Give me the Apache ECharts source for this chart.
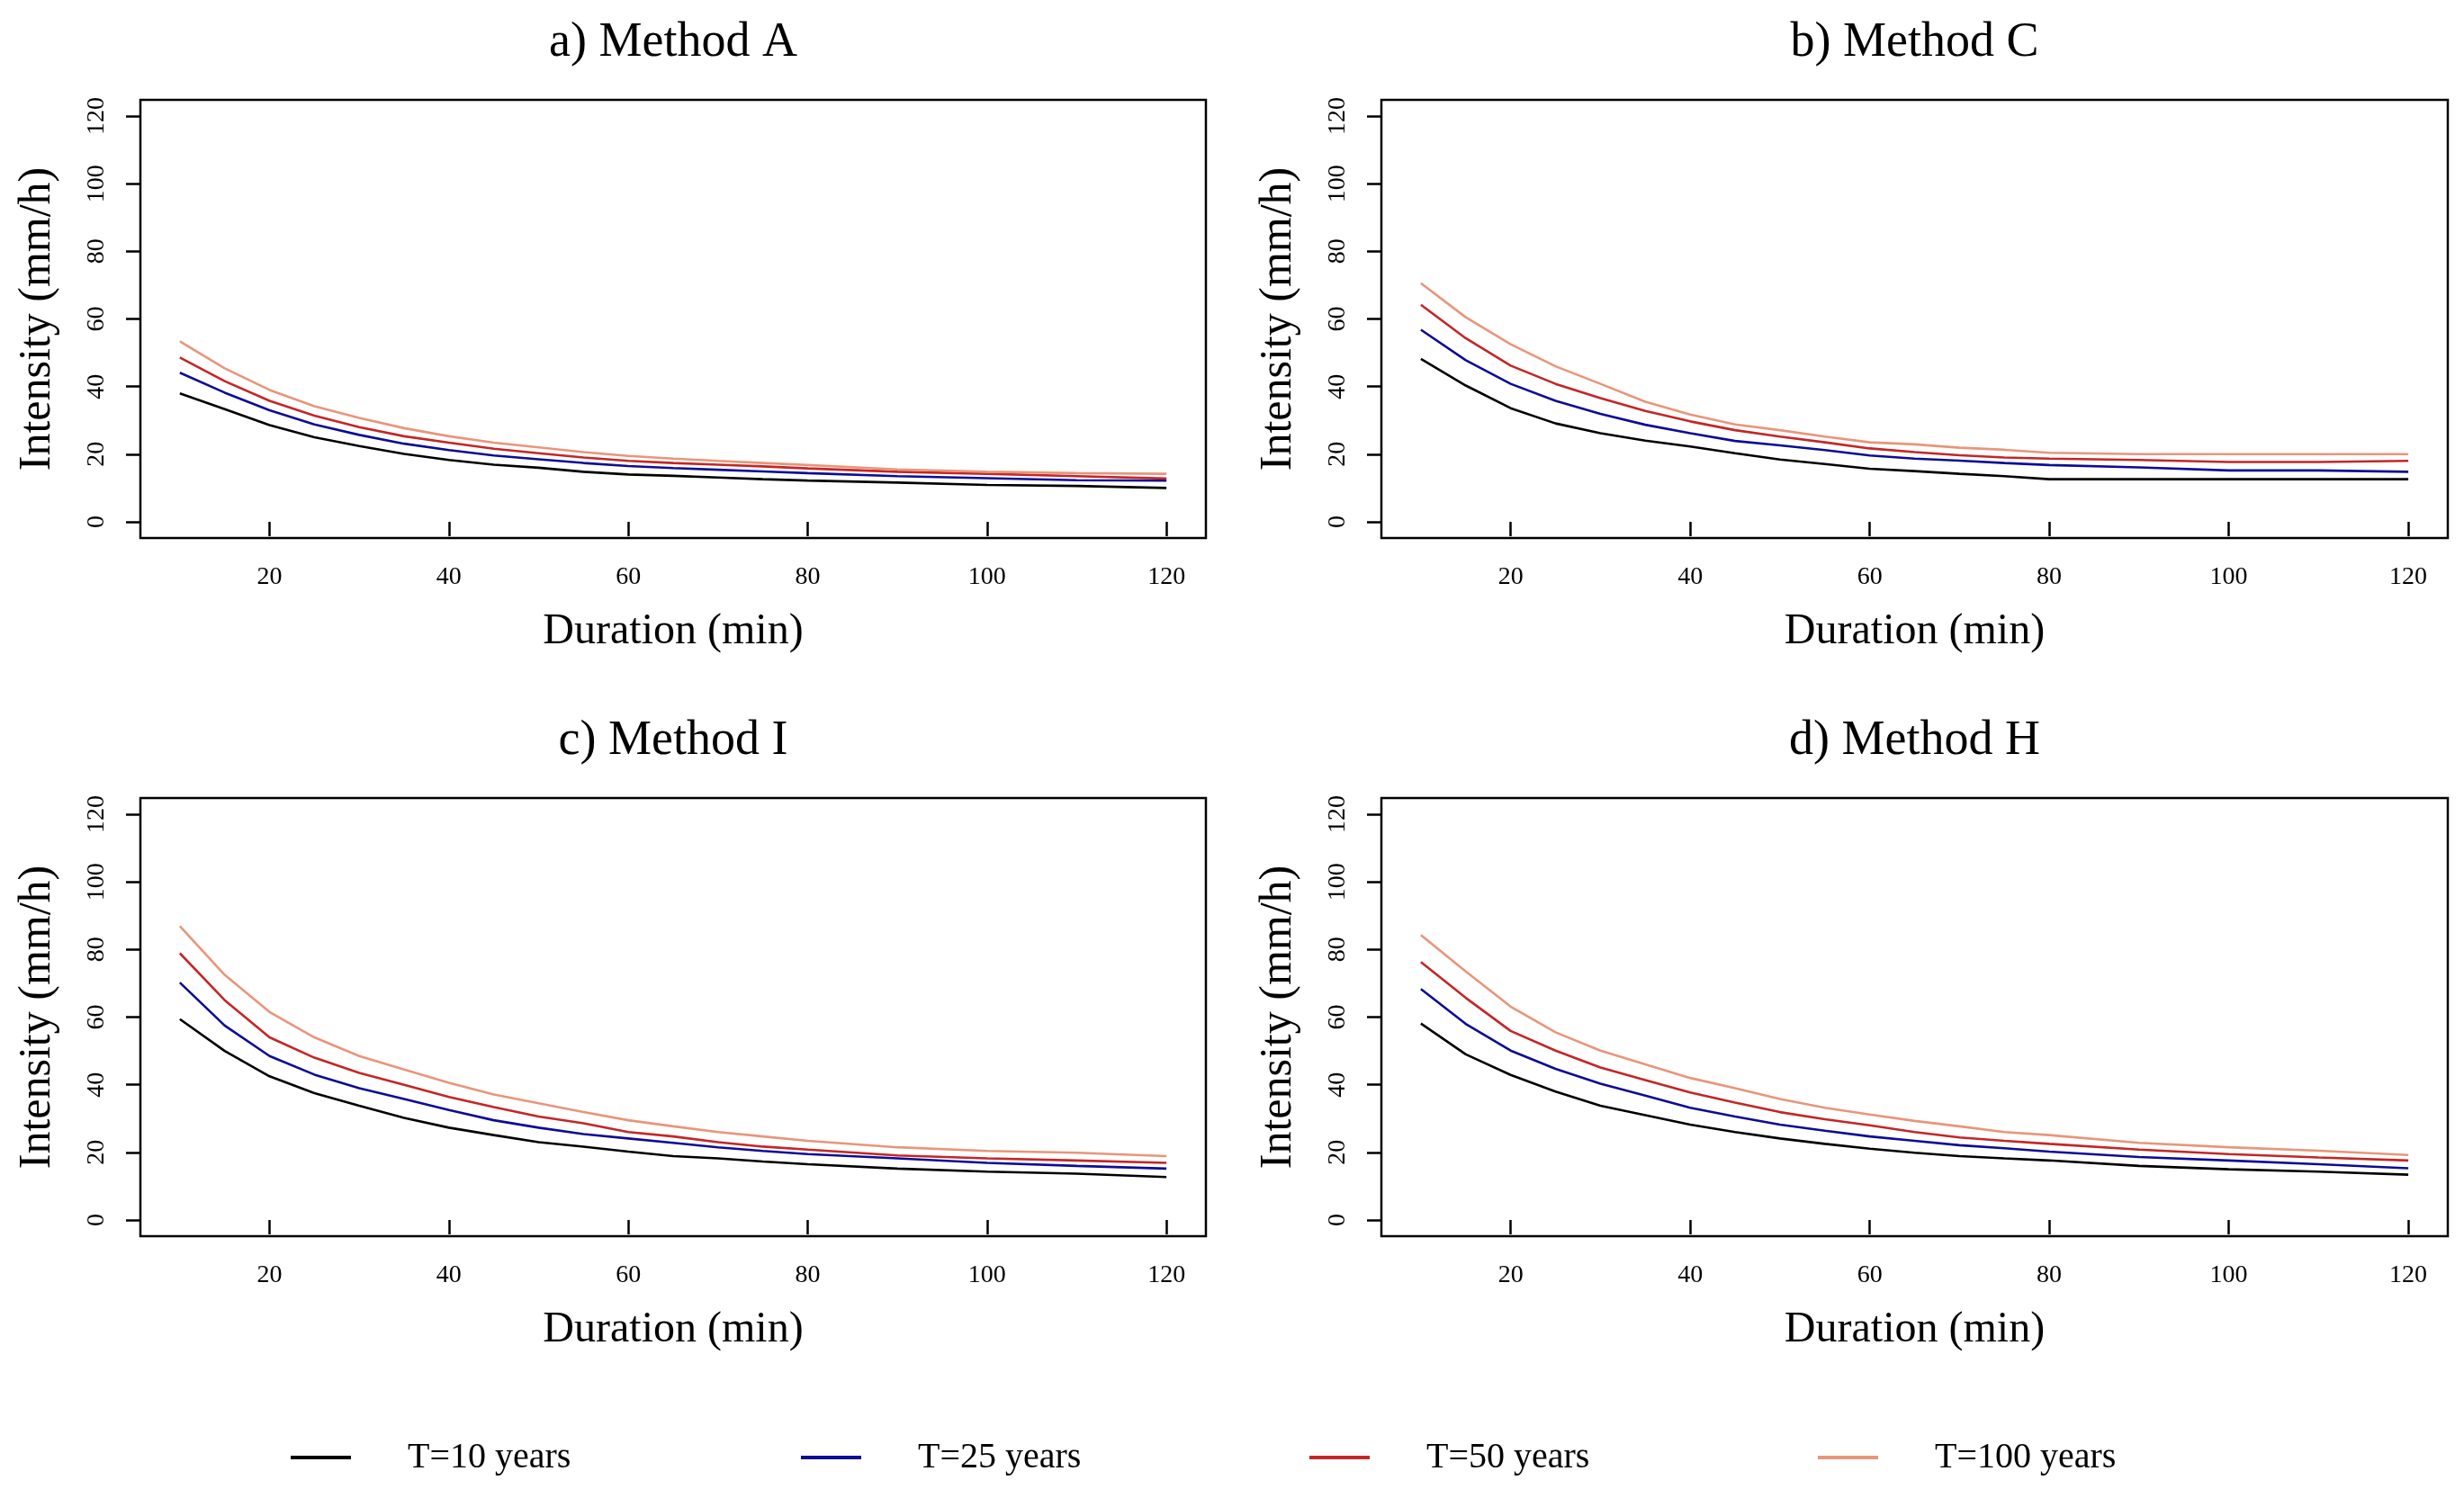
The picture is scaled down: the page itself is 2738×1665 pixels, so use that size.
<!DOCTYPE html>
<html><head><meta charset="utf-8">
<script src="https://cdn.jsdelivr.net/npm/echarts@6/dist/echarts.min.js"></script>
<style>html,body{margin:0;padding:0;background:#fff}#c{width:2738px;height:1665px}</style>
</head><body><div id="c"></div>
<script>
const durations = [10,15,20,25,30,35,40,45,50,55,60,65,70,75,80,90,100,110,120];
const seriesNames = ['T=10 years','T=25 years','T=50 years','T=100 years'];
const panelTitles = ['a) Method A','b) Method C','c) Method I','d) Method H'];
const xTicks = [20,40,60,80,100,120];
const yTicks = [0,20,40,60,80,100,120];
const xAxisName = 'Duration (min)';
const yAxisName = 'Intensity (mm/h)';

const methodA_T10  = [38.0,33.3,28.6,25.0,22.4,20.1,18.3,16.9,16.0,14.8,14.0,13.6,13.1,12.6,12.2,11.6,10.9,10.6,10.0];
const methodA_T25  = [44.1,38.2,33.0,28.8,25.7,23.1,21.2,19.6,18.5,17.4,16.5,15.9,15.4,14.9,14.4,13.5,12.9,12.3,12.2];
const methodA_T50  = [48.6,41.6,35.8,31.4,28.0,25.3,23.4,21.6,20.3,19.0,18.0,17.4,16.9,16.4,15.8,14.8,14.2,13.5,12.8];
const methodA_T100 = [53.4,45.4,39.0,34.2,30.7,27.7,25.3,23.4,22.0,20.6,19.5,18.7,18.0,17.4,16.8,15.5,14.8,14.4,14.2];

const methodC_T10  = [48.2,40.3,33.6,29.1,26.2,24.0,22.3,20.3,18.4,17.1,15.7,15.0,14.2,13.5,12.6,12.6,12.6,12.6,12.6];
const methodC_T25  = [56.8,47.8,40.8,35.8,31.9,28.7,26.2,23.9,22.6,21.2,19.6,18.7,18.1,17.4,16.8,16.1,15.2,15.2,14.8];
const methodC_T50  = [64.2,54.3,46.2,40.8,36.6,32.8,29.7,27.1,25.2,23.5,21.7,20.6,19.7,19.0,18.7,18.3,17.7,17.7,18.0];
const methodC_T100 = [70.6,60.5,52.5,46.0,40.8,35.5,31.7,28.8,27.1,25.2,23.5,22.9,21.9,21.3,20.4,20.0,20.0,20.0,20.0];

const methodI_T10  = [59.4,50.0,42.5,37.5,33.8,30.2,27.3,25.1,23.0,21.7,20.2,18.9,18.2,17.3,16.5,15.2,14.3,13.7,12.7];
const methodI_T25  = [70.2,57.5,48.5,43.0,39.0,35.8,32.5,29.5,27.3,25.4,24.1,22.8,21.5,20.4,19.5,18.2,16.9,16.0,15.2];
const methodI_T50  = [78.9,65.0,54.0,48.0,43.5,40.0,36.4,33.4,30.6,28.6,26.0,24.7,23.0,21.7,20.8,19.1,18.2,17.6,16.9];
const methodI_T100 = [86.9,72.5,61.5,54.0,48.5,44.5,40.6,37.1,34.5,31.9,29.5,27.7,26.0,24.7,23.4,21.5,20.4,19.9,18.9];

const methodH_T10  = [58.1,49.0,42.9,38.0,33.8,31.0,28.2,26.0,24.1,22.5,21.1,19.9,18.9,18.2,17.6,16.0,15.0,14.3,13.4];
const methodH_T25  = [68.3,58.0,50.1,44.7,40.3,36.8,33.2,30.6,28.2,26.4,24.7,23.4,22.1,21.2,20.2,18.6,17.6,16.5,15.3];
const methodH_T50  = [76.3,65.7,55.9,50.1,45.1,41.4,37.7,34.7,31.9,29.8,28.0,26.0,24.4,23.4,22.5,20.8,19.5,18.5,17.6];
const methodH_T100 = [84.3,73.5,63.1,55.5,50.1,46.0,42.0,39.0,35.8,33.2,31.2,29.3,27.7,26.0,25.1,22.8,21.5,20.5,19.2];

const panelValues = [
  [methodA_T10, methodA_T25, methodA_T50, methodA_T100],
  [methodC_T10, methodC_T25, methodC_T50, methodC_T100],
  [methodI_T10, methodI_T25, methodI_T50, methodI_T100],
  [methodH_T10, methodH_T25, methodH_T50, methodH_T100]
];

// styling / layout
const seriesColors = ['#000000','#0c0c96','#c42626','#e9957a'];
const FONT = 'Liberation Serif';
const grids = [
  {left:156, top:111, width:1184, height:487},
  {left:1535, top:111, width:1185, height:487},
  {left:156, top:887, width:1184, height:487},
  {left:1535, top:887, width:1185, height:487}
];
const legendLeft = [323, 890, 1455, 2020];

const option = {
  animation: false,
  backgroundColor: '#ffffff',
  title: panelTitles.map((t,i)=>({
    text: t,
    left: grids[i].left + grids[i].width/2,
    top: grids[i].top - 90,
    textAlign: 'center',
    padding: 0,
    textStyle: {fontFamily: FONT, fontSize: 54, fontWeight: 'normal', color: '#000'}
  })),
  legend: seriesNames.map((n,i)=>({
    data: [n],
    left: legendLeft[i],
    top: 1600,
    padding: 0,
    icon: 'rect',
    itemWidth: 67,
    itemHeight: 4,
    selectedMode: false,
    textStyle: {fontFamily: FONT, fontSize: 40, color: '#000', padding: [0,0,0,58]}
  })),
  grid: grids.map(g=>({
    left: g.left, top: g.top, width: g.width, height: g.height,
    show: true, borderColor: '#000', borderWidth: 2.5, backgroundColor: '#fff'
  })),
  xAxis: grids.map((g,i)=>({
    type: 'value', gridIndex: i, min: 5.6, max: 124.4,
    name: xAxisName, nameLocation: 'middle', nameGap: 80,
    nameTextStyle: {fontFamily: FONT, fontSize: 48, color: '#000'},
    axisLine: {show: false},
    splitLine: {show: false},
    axisTick: {show: true, customValues: xTicks, length: 16, lineStyle: {color: '#000', width: 2.5}},
    axisLabel: {customValues: xTicks, margin: 30, fontFamily: FONT, fontSize: 28, color: '#000'}
  })),
  yAxis: grids.map((g,i)=>({
    type: 'value', gridIndex: i, min: -4.8, max: 124.8,
    name: yAxisName, nameLocation: 'middle', nameGap: 89,
    nameTextStyle: {fontFamily: FONT, fontSize: 50, color: '#000'},
    axisLine: {show: false},
    splitLine: {show: false},
    axisTick: {show: true, customValues: yTicks, length: 16, lineStyle: {color: '#000', width: 2.5}},
    axisLabel: {customValues: yTicks, rotate: 90, margin: 34, fontFamily: FONT, fontSize: 28, color: '#000'}
  })),
  series: []
};

panelValues.forEach((vals, p)=>{
  vals.forEach((arr, s)=>{
    option.series.push({
      type: 'line', name: seriesNames[s], xAxisIndex: p, yAxisIndex: p,
      data: durations.map((d,k)=>[d, arr[k]]),
      showSymbol: false, symbol: 'none',
      lineStyle: {color: seriesColors[s], width: 2.6},
      itemStyle: {color: seriesColors[s]},
      z: 2 + s
    });
  });
});

const chart = echarts.init(document.getElementById('c'));
chart.setOption(option);
</script></body></html>
